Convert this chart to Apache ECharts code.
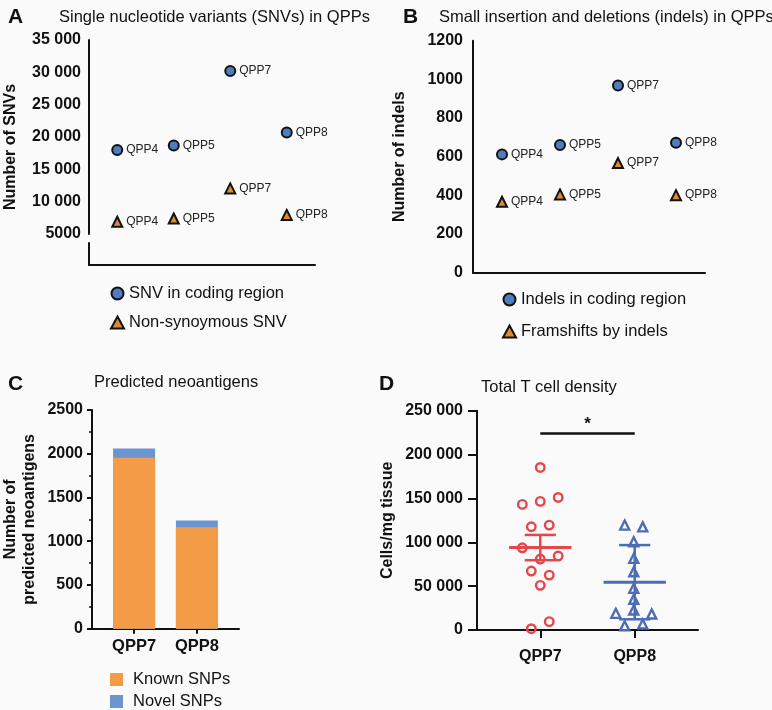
<!DOCTYPE html>
<html>
<head>
<meta charset="utf-8">
<title>QPP variants, neoantigens and T cells</title>
<script src="https://cdn.jsdelivr.net/npm/echarts@6/dist/echarts.min.js"></script>
<style>
  html, body { margin: 0; padding: 0; background: #fafafa; }
  #chart { width: 772px; height: 710px; }
</style>
</head>
<body>
<div id="chart"></div>
<script>
// panel A / B: variants per sample
const samples = ['QPP4', 'QPP5', 'QPP7', 'QPP8']
const snvCoding = [18000, 18700, 30200, 20700]
const snvNonSyn = [6900, 7400, 12050, 7950]
const indelCoding = [612, 660, 968, 672]
const indelFrameshift = [367, 405, 567, 401]

// panel C: predicted neoantigens
const neoGroups = ['QPP7', 'QPP8']
const neoKnown = [1955, 1160]
const neoNovel = [105, 76]

// panel D: total T cell density, [group position (jittered), cells/mg]
const tcellQPP7 = [
  [1.0, 185300], [0.81, 143200], [1.0, 146600], [1.19, 151100],
  [0.905, 117700], [1.095, 119600], [0.81, 93700], [1.0, 80900],
  [1.19, 84300], [0.905, 67200], [1.095, 62600], [1.0, 50900],
  [1.095, 9500], [0.905, 1500]
]
const tcellQPP8 = [
  [1.894, 119600], [2.085, 117600], [1.99, 100600], [1.99, 81700],
  [1.99, 66400], [1.99, 47500], [1.99, 35000], [1.99, 22800],
  [1.80, 19000], [2.18, 18200], [1.894, 4900], [2.085, 6800]
]
const tcellMean = [94000, 54500]
const tcellError = [14400, 42300]
const sigLevel = 224000

const font = 'Liberation Sans, Arial, Helvetica, sans-serif'
const ink = '#111'
const blueDot = '#4f7ec0'
const orangeTri = '#e08a2e'
const barOrange = '#f49b48'
const barBlue = '#6b95d1'
const red = '#e3474c'
const blue = '#4d6cb3'

const fmtNum = v => (v >= 10000 ? String(v).replace(/\B(?=(\d{3})+(?!\d))/g, ' ') : String(v))

const axisLine = { show: true, lineStyle: { color: ink, width: 2 } }
const tickLabel = { color: ink, fontFamily: font, fontSize: 16, fontWeight: 'bold' }
const axisName = { color: ink, fontFamily: font, fontSize: 16, fontWeight: 'bold', lineHeight: 19 }
const legendText = { fontSize: 16.5, color: ink, fontFamily: font }

const chart = echarts.init(document.getElementById('chart'))

function meanErrorItem(params, api) {
  const x = api.value(0)
  const m = api.value(1)
  const e = api.value(2)
  const color = [red, blue][params.dataIndex]
  const seg = (a, b, w) => ({
    type: 'line',
    shape: { x1: a[0], y1: a[1], x2: b[0], y2: b[1] },
    style: { stroke: color, lineWidth: w }
  })
  return {
    type: 'group',
    children: [
      seg(api.coord([x - 0.33, m]), api.coord([x + 0.33, m]), 3),
      seg(api.coord([x, m - e]), api.coord([x, m + e]), 2.5),
      seg(api.coord([x - 0.165, m + e]), api.coord([x + 0.165, m + e]), 2.5),
      seg(api.coord([x - 0.165, m - e]), api.coord([x + 0.165, m - e]), 2.5)
    ]
  }
}

function sigItem(params, api) {
  const a = api.coord([api.value(0), api.value(2)])
  const b = api.coord([api.value(1), api.value(2)])
  return {
    type: 'group',
    children: [
      { type: 'line', shape: { x1: a[0], y1: a[1], x2: b[0], y2: b[1] }, style: { stroke: ink, lineWidth: 2.5 } },
      {
        type: 'text',
        x: (a[0] + b[0]) / 2,
        y: a[1] - 9,
        style: { text: '*', fontFamily: font, fontSize: 17, fontWeight: 'bold', fill: ink, align: 'center', verticalAlign: 'middle' }
      }
    ]
  }
}

const pointLabel = { show: true, position: 'right', distance: 3, formatter: '{b}', color: '#222', fontFamily: font, fontSize: 12 }

chart.setOption({
  backgroundColor: '#fafafa',
  animation: false,
  textStyle: { fontFamily: font },
  title: [
    { text: 'A', left: 3, top: 2, textStyle: { fontSize: 21, fontWeight: 'bold', color: ink, fontFamily: font } },
    { text: 'Single nucleotide variants (SNVs) in QPPs', left: 54, top: 4, textStyle: { fontSize: 16.5, fontWeight: 'normal', color: ink, fontFamily: font } },
    { text: 'B', left: 398, top: 2, textStyle: { fontSize: 21, fontWeight: 'bold', color: ink, fontFamily: font } },
    { text: 'Small insertion and deletions (indels) in QPPs', left: 434, top: 4, textStyle: { fontSize: 16.5, fontWeight: 'normal', color: ink, fontFamily: font } },
    { text: 'C', left: 3, top: 369, textStyle: { fontSize: 21, fontWeight: 'bold', color: ink, fontFamily: font } },
    { text: 'Predicted neoantigens', left: 89, top: 369, textStyle: { fontSize: 16.5, fontWeight: 'normal', color: ink, fontFamily: font } },
    { text: 'D', left: 374, top: 369, textStyle: { fontSize: 21, fontWeight: 'bold', color: ink, fontFamily: font } },
    { text: 'Total T cell density', left: 476, top: 374, textStyle: { fontSize: 16.5, fontWeight: 'normal', color: ink, fontFamily: font } }
  ],
  legend: [
    {
      data: [{ name: 'SNV in coding region', icon: 'circle' }, { name: 'Non-synoymous SNV', icon: 'triangle' }],
      orient: 'vertical', left: 110, top: 285, padding: 0, itemWidth: 13, itemHeight: 12, itemGap: 12,
      textStyle: legendText
    },
    {
      data: [{ name: 'Indels in coding region', icon: 'circle' }, { name: 'Framshifts by indels', icon: 'triangle' }],
      orient: 'vertical', left: 502, top: 291, padding: 0, itemWidth: 13, itemHeight: 12, itemGap: 15,
      textStyle: legendText
    },
    {
      data: ['Known SNPs', 'Novel SNPs'],
      orient: 'vertical', left: 110, top: 671, padding: 0, itemWidth: 13, itemHeight: 13, itemGap: 5, icon: 'rect',
      textStyle: { ...legendText, padding: [0, 0, 0, 5] }
    }
  ],
  grid: [
    { left: 89, top: 40, width: 226, height: 194 },
    { left: 89, top: 243, width: 226, height: 22 },
    { left: 473, top: 40.7, width: 232, height: 232 },
    { left: 92, top: 410, width: 147, height: 218.7 },
    { left: 477, top: 410.7, width: 221, height: 219.3 }
  ],
  xAxis: [
    { gridIndex: 0, type: 'category', data: samples, axisLine: { show: false }, axisTick: { show: false }, axisLabel: { show: false } },
    { gridIndex: 1, type: 'category', data: samples, axisLine, axisTick: { alignWithLabel: true, length: 5, lineStyle: { color: ink, width: 2 } }, axisLabel: { show: false } },
    { gridIndex: 2, type: 'category', data: samples, axisLine, axisTick: { alignWithLabel: true, length: 5, lineStyle: { color: ink, width: 2 } }, axisLabel: { show: false } },
    {
      gridIndex: 3, type: 'value', min: 0.33, max: 2.67, axisLine, splitLine: { show: false },
      axisTick: { customValues: [1, 2], length: 5, lineStyle: { color: ink, width: 2 } },
      axisLabel: { customValues: [1, 2], formatter: v => neoGroups[Math.round(v) - 1], margin: 9, ...tickLabel, fontSize: 16.5 }
    },
    {
      gridIndex: 4, type: 'value', min: 0.33, max: 2.67, axisLine, splitLine: { show: false },
      axisTick: { customValues: [1, 2], length: 8, lineStyle: { color: ink, width: 2 } },
      axisLabel: { customValues: [1, 2], formatter: v => neoGroups[Math.round(v) - 1], margin: 19, ...tickLabel }
    }
  ],
  yAxis: [
    {
      gridIndex: 0, type: 'value', min: 5000, max: 35000, interval: 5000, axisLine, splitLine: { show: false },
      axisTick: { length: 4, lineStyle: { color: ink, width: 2 } },
      axisLabel: { ...tickLabel, margin: 8, formatter: fmtNum },
      name: 'Number of SNVs', nameLocation: 'middle', nameGap: 69, nameTextStyle: { ...axisName, padding: [0, 20, 0, 0] }
    },
    { gridIndex: 1, type: 'value', min: 0, max: 1, axisLine, axisTick: { show: false }, axisLabel: { show: false }, splitLine: { show: false } },
    {
      gridIndex: 2, type: 'value', min: 0, max: 1200, interval: 200, axisLine, splitLine: { show: false },
      axisTick: { length: 6, lineStyle: { color: ink, width: 2 } },
      axisLabel: { ...tickLabel, margin: 10, formatter: fmtNum },
      name: 'Number of indels', nameLocation: 'middle', nameGap: 64, nameTextStyle: axisName
    },
    {
      gridIndex: 3, type: 'value', min: 0, max: 2500, interval: 500, axisLine, splitLine: { show: false },
      axisTick: { length: 5, lineStyle: { color: ink, width: 2 } },
      minorTick: { show: true, splitNumber: 2, length: 3, lineStyle: { color: ink, width: 1.5 } },
      axisLabel: { ...tickLabel, margin: 9, formatter: fmtNum },
      name: 'Number of\npredicted neoantigens', nameLocation: 'middle', nameGap: 53, nameTextStyle: axisName
    },
    {
      gridIndex: 4, type: 'value', min: 0, max: 250000, interval: 50000, axisLine, splitLine: { show: false },
      axisTick: { length: 9, lineStyle: { color: ink, width: 2 } },
      axisLabel: { ...tickLabel, margin: 14, formatter: fmtNum },
      name: 'Cells/mg tissue', nameLocation: 'middle', nameGap: 80, nameTextStyle: axisName
    }
  ],
  series: [
    {
      name: 'SNV in coding region', type: 'scatter', xAxisIndex: 0, yAxisIndex: 0, data: snvCoding,
      symbol: 'circle', symbolSize: 10, itemStyle: { color: blueDot, borderColor: ink, borderWidth: 2, opacity: 1 }, label: pointLabel
    },
    {
      name: 'Non-synoymous SNV', type: 'scatter', xAxisIndex: 0, yAxisIndex: 0, data: snvNonSyn,
      symbol: 'triangle', symbolSize: 10, itemStyle: { color: orangeTri, borderColor: ink, borderWidth: 2, opacity: 1 }, label: pointLabel
    },
    {
      name: 'Indels in coding region', type: 'scatter', xAxisIndex: 2, yAxisIndex: 2, data: indelCoding,
      symbol: 'circle', symbolSize: 10, itemStyle: { color: blueDot, borderColor: ink, borderWidth: 2, opacity: 1 }, label: pointLabel
    },
    {
      name: 'Framshifts by indels', type: 'scatter', xAxisIndex: 2, yAxisIndex: 2, data: indelFrameshift,
      symbol: 'triangle', symbolSize: 10, itemStyle: { color: orangeTri, borderColor: ink, borderWidth: 2, opacity: 1 }, label: pointLabel
    },
    {
      name: 'Novel SNPs', type: 'bar', xAxisIndex: 3, yAxisIndex: 3, barWidth: 42,
      data: neoGroups.map((g, i) => [i + 1, neoKnown[i] + neoNovel[i]]), itemStyle: { color: barBlue }
    },
    {
      name: 'Known SNPs', type: 'bar', xAxisIndex: 3, yAxisIndex: 3, barWidth: 42, barGap: '-100%',
      data: neoGroups.map((g, i) => [i + 1, neoKnown[i]]), itemStyle: { color: barOrange }
    },
    {
      name: 'QPP7 T cells', type: 'scatter', xAxisIndex: 4, yAxisIndex: 4, data: tcellQPP7,
      symbol: 'circle', symbolSize: 8.5, itemStyle: { color: 'rgba(0,0,0,0)', borderColor: red, borderWidth: 2.4, opacity: 1 }
    },
    {
      name: 'QPP8 T cells', type: 'scatter', xAxisIndex: 4, yAxisIndex: 4, data: tcellQPP8,
      symbol: 'triangle', symbolSize: 9, itemStyle: { color: 'rgba(0,0,0,0)', borderColor: blue, borderWidth: 2.4, opacity: 1 }
    },
    {
      name: 'Mean', type: 'custom', xAxisIndex: 4, yAxisIndex: 4, renderItem: meanErrorItem,
      encode: { x: 0, y: 1 }, data: tcellMean.map((m, i) => [i + 1, m, tcellError[i]])
    },
    {
      name: 'Significance', type: 'custom', xAxisIndex: 4, yAxisIndex: 4, renderItem: sigItem,
      encode: { x: [0, 1], y: 2 }, data: [[1, 2, sigLevel]]
    }
  ]
})
</script>
</body>
</html>
